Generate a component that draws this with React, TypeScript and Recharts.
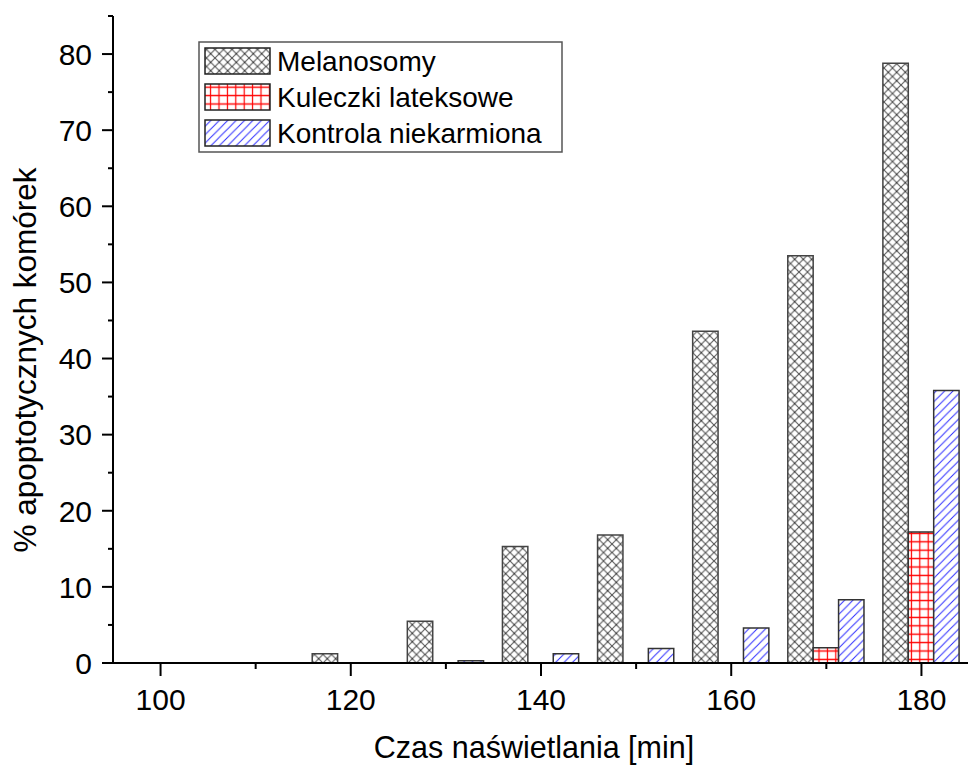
import React from 'react';
import { BarChart, Bar, XAxis, YAxis, Legend } from 'recharts';

const times = [120, 130, 140, 150, 160, 170, 180];
const melanosomy = [1.2, 5.5, 15.3, 16.8, 43.6, 53.5, 78.8];
const kuleczki: (number | null)[] = [null, null, null, null, null, 2.0, 17.2];
const kontrola: (number | null)[] = [null, 0.3, 1.2, 1.9, 4.6, 8.3, 35.8];
const xTicks = [100, 110, 120, 130, 140, 150, 160, 170, 180];
const yTicks = [0, 5, 10, 15, 20, 25, 30, 35, 40, 45, 50, 55, 60, 65, 70, 75, 80, 85];
const seriesNames = ['Melanosomy', 'Kuleczki lateksowe', 'Kontrola niekarmiona'];
const xTitle = 'Czas naświetlania [min]';
const yTitle = '% apoptotycznych komórek';

const data = times.map((t, i) => ({ x: t, m: melanosomy[i], k: kuleczki[i], c: kontrola[i] }));

const FONT = '"Liberation Sans", Arial, sans-serif';

const Patterns = ({ prefix }: { prefix: string }) => (
  <defs>
    <pattern id={`${prefix}Mel`} patternUnits="userSpaceOnUse" width="8.5" height="8.5">
      <rect width="8.5" height="8.5" fill="#fff" />
      <path d="M0,0 L8.5,8.5 M8.5,0 L0,8.5" stroke="#555" strokeWidth="1.1" />
      <rect x="3.75" y="3.75" width="1" height="1" fill="#000" />
    </pattern>
    <pattern id={`${prefix}Kul`} patternUnits="userSpaceOnUse" width="8.4" height="8.4">
      <rect width="8.4" height="8.4" fill="#fff" />
      <path d="M0,4.2 H8.4 M4.2,0 V8.4" stroke="#ff0000" strokeWidth="1.2" />
    </pattern>
    <pattern id={`${prefix}Kon`} patternUnits="userSpaceOnUse" width="8.4" height="8.4">
      <rect width="8.4" height="8.4" fill="#fff" />
      <path d="M0,8.4 L8.4,0 M-2,2 L2,-2 M6.4,10.4 L10.4,6.4" stroke="#2f2fff" strokeWidth="1" />
    </pattern>
  </defs>
);

const YTick = (props: any) => {
  const { x, y, payload } = props;
  const major = payload.value % 10 === 0;
  return (
    <g>
      <line x1={x} x2={x - (major ? 11 : 5)} y1={y} y2={y} stroke="#000" strokeWidth={2} />
      {major && (
        <text x={x - 21} y={y} dy="0.36em" textAnchor="end" fontFamily={FONT} fontSize={30} fill="#000">
          {payload.value}
        </text>
      )}
    </g>
  );
};

const XTick = (props: any) => {
  const { x, y, payload } = props;
  const major = payload.value % 20 === 0;
  return (
    <g>
      <line x1={x} x2={x} y1={y} y2={y + (major ? 13 : 6)} stroke="#000" strokeWidth={2} />
      {major && (
        <text x={x} y={y + 47} textAnchor="middle" fontFamily={FONT} fontSize={30} fill="#000">
          {payload.value}
        </text>
      )}
    </g>
  );
};

const YTitle = () => (
  <text
    x={25}
    y={360}
    transform="rotate(-90 25 360)"
    textAnchor="middle"
    dominantBaseline="central"
    fontFamily={FONT}
    fontSize={31.5}
    fill="#000"
  >
    {yTitle}
  </text>
);

const XTitle = () => (
  <text x={534} y={758} textAnchor="middle" fontFamily={FONT} fontSize={30.5} fill="#000">
    {xTitle}
  </text>
);

const fills = ['url(#lgMel)', 'url(#lgKul)', 'url(#lgKon)'];

const LegendBox = () => (
  <svg width={366} height={113} style={{ display: 'block' }}>
    <Patterns prefix="lg" />
    <rect x={1} y={1} width={363} height={110} fill="#fff" stroke="#555" strokeWidth={1.5} />
    {seriesNames.map((name, i) => (
      <g key={name}>
        <rect x={7} y={7 + i * 36} width={65} height={26} fill={fills[i]} stroke="#222" strokeWidth={1.5} />
        <text x={79} y={20 + i * 36} dy="0.36em" fontFamily={FONT} fontSize={28} fill="#000">
          {name}
        </text>
      </g>
    ))}
  </svg>
);

export default function App() {
  return (
    <div style={{ position: 'absolute', left: 0, top: 0, width: 968, height: 769, overflow: 'hidden', background: '#fff' }}>
      <BarChart
        width={980}
        height={769}
        data={data}
        margin={{ top: 16, right: 11, left: 13, bottom: 0 }}
        barGap={0}
        barSize={25.4}
      >
        <Patterns prefix="ch" />
        <XAxis
          dataKey="x"
          type="number"
          domain={[95, 185]}
          ticks={xTicks}
          allowDataOverflow
          height={106}
          tickSize={0}
          tickMargin={0}
          tickLine={false}
          axisLine={{ stroke: '#000', strokeWidth: 2 }}
          tick={<XTick />}
          interval={0}
          label={<XTitle />}
        />
        <YAxis
          type="number"
          domain={[0, 85]}
          ticks={yTicks}
          allowDataOverflow
          width={100}
          tickSize={0}
          tickMargin={0}
          tickLine={false}
          axisLine={{ stroke: '#000', strokeWidth: 2 }}
          tick={<YTick />}
          interval={0}
          label={<YTitle />}
        />
        <Legend
          layout="vertical"
          align="center"
          verticalAlign="middle"
          content={() => <LegendBox />}
          wrapperStyle={{ position: 'absolute', left: 198, top: 41, width: 366, height: 113 }}
        />
        <Bar dataKey="m" name={seriesNames[0]} fill="url(#chMel)" stroke="#444" strokeWidth={1.5} isAnimationActive={false} />
        <Bar dataKey="k" name={seriesNames[1]} fill="url(#chKul)" stroke="#333" strokeWidth={1.5} isAnimationActive={false} />
        <Bar dataKey="c" name={seriesNames[2]} fill="url(#chKon)" stroke="#333" strokeWidth={1.5} isAnimationActive={false} />
      </BarChart>
    </div>
  );
}
